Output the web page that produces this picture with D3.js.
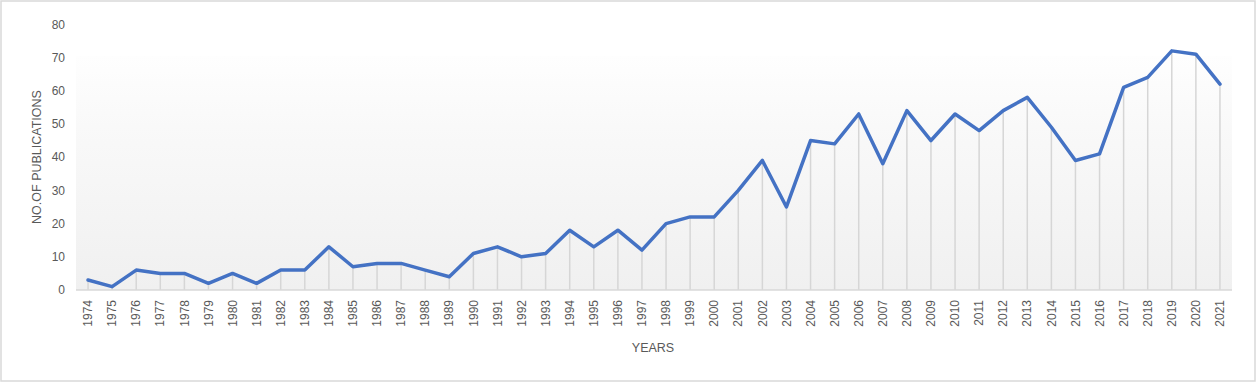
<!DOCTYPE html>
<html>
<head>
<meta charset="utf-8">
<script src="https://cdn.jsdelivr.net/npm/d3@7"></script>
<style>
  html, body { margin: 0; padding: 0; background: #fff; }
  svg { display: block; }
  text { font-family: "Liberation Sans", "DejaVu Sans", sans-serif; fill: #595959; }
</style>
</head>
<body>
<svg id="chart" width="1256" height="382"></svg>
<script>
const years = ["1974","1975","1976","1977","1978","1979","1980","1981","1982","1983",
  "1984","1985","1986","1987","1988","1989","1990","1991","1992","1993",
  "1994","1995","1996","1997","1998","1999","2000","2001","2002","2003",
  "2004","2005","2006","2007","2008","2009","2010","2011","2012","2013",
  "2014","2015","2016","2017","2018","2019","2020","2021"];
const publications = [3,1,6,5,5,2,5,2,6,6,
  13,7,8,8,6,4,11,13,10,11,
  18,13,18,12,20,22,22,30,39,25,
  45,44,53,38,54,45,53,48,54,58,
  49,39,41,61,64,72,71,62];
const yTicks = [0,10,20,30,40,50,60,70,80];
const xTitle = "YEARS";
const yTitle = "NO.OF PUBLICATIONS";

const svg = d3.select("#chart");
const W = 1256, H = 382;
const plot = { left: 76, right: 1232, top: 24.3, bottom: 290 };

// chart border
svg.append("rect").attr("x", 1).attr("y", 1).attr("width", W - 2).attr("height", H - 2)
  .attr("fill", "#fff").attr("stroke", "#d9d9d9").attr("stroke-width", 1.5);

const x = d3.scaleBand().domain(years).range([plot.left, plot.right]).padding(0);
const y = d3.scaleLinear().domain([0, 80]).range([plot.bottom, plot.top]);

// gradient plot area
const defs = svg.append("defs");
const grad = defs.append("linearGradient").attr("id", "pg").attr("x1", 0).attr("y1", 0).attr("x2", 0).attr("y2", 1);
grad.append("stop").attr("offset", "0%").attr("stop-color", "#fefefe");
grad.append("stop").attr("offset", "30%").attr("stop-color", "#f9f9f9");
grad.append("stop").attr("offset", "100%").attr("stop-color", "#f0f0f0");
svg.append("rect")
  .attr("x", plot.left).attr("y", y(70.5))
  .attr("width", plot.right - plot.left).attr("height", y(0) - y(70.5))
  .attr("fill", "url(#pg)");

const cx = d => x(d) + x.bandwidth() / 2;

// drop lines
svg.append("g").selectAll("line").data(years).join("line")
  .attr("x1", d => cx(d)).attr("x2", d => cx(d))
  .attr("y1", (d, i) => y(publications[i])).attr("y2", y(0))
  .attr("stroke", "#d6d6d6").attr("stroke-width", 1.5);

// x axis line
svg.append("line").attr("x1", plot.left).attr("x2", plot.right)
  .attr("y1", y(0)).attr("y2", y(0)).attr("stroke", "#d9d9d9").attr("stroke-width", 1.5);

// y tick labels
const yAxis = d3.axisLeft(y).tickValues(yTicks).tickSize(0).tickPadding(0);
const gy = svg.append("g").attr("transform", `translate(${plot.left - 11},0)`).call(yAxis);
gy.select(".domain").remove();
gy.selectAll("text").attr("font-size", 12).attr("fill", "#595959")
  .attr("font-family", "Liberation Sans, sans-serif");

// x tick labels
const xAxis = d3.axisBottom(x).tickSize(0).tickPadding(0);
const gx = svg.append("g").attr("transform", `translate(0,${y(0)})`).call(xAxis);
gx.select(".domain").remove();
gx.selectAll("text")
  .attr("font-size", 12).attr("fill", "#595959")
  .attr("font-family", "Liberation Sans, sans-serif")
  .attr("text-anchor", "end")
  .attr("transform", "rotate(-90)")
  .attr("x", -10).attr("y", 0).attr("dy", "0.35em");

// line
const line = d3.line().x((d, i) => cx(years[i])).y(d => y(d));
svg.append("path").datum(publications)
  .attr("d", line).attr("fill", "none")
  .attr("stroke", "#4472c4").attr("stroke-width", 3.5)
  .attr("stroke-linejoin", "round").attr("stroke-linecap", "round");

// titles
svg.append("text").attr("x", (plot.left + plot.right) / 2 - 1).attr("y", 352)
  .attr("text-anchor", "middle").attr("font-size", 12.5).text(xTitle);
svg.append("text").attr("transform", `translate(41,${157}) rotate(-90)`)
  .attr("text-anchor", "middle").attr("font-size", 12.5).text(yTitle);
</script>
</body>
</html>
